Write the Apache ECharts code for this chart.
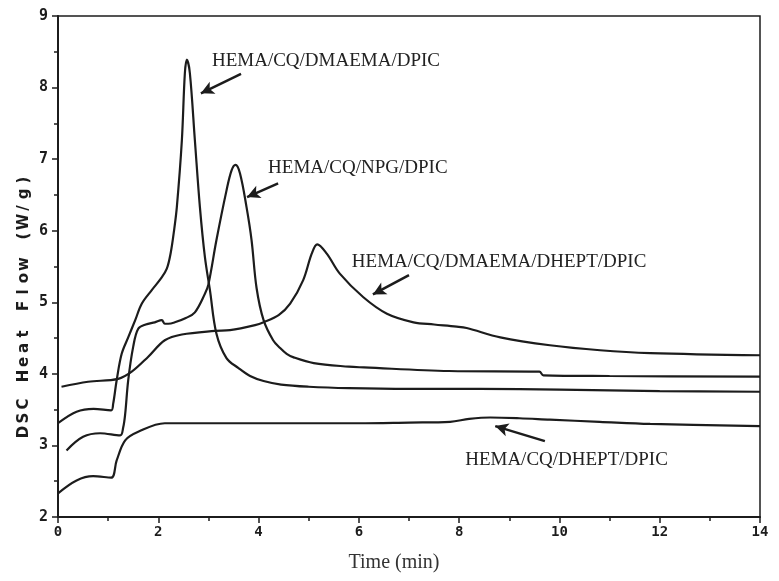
<!DOCTYPE html>
<html>
<head>
<meta charset="utf-8">
<script src="https://cdn.jsdelivr.net/npm/echarts@6/dist/echarts.min.js"></script>
<style>
  html, body { margin: 0; background: #fff; }
  #chart { width: 779px; height: 581px; }
</style>
</head>
<body>
<div id="chart"></div>
<script>
// axis ranges (min, max, step)
const xAxisRange = [0, 14, 2]
const yAxisRange = [2, 9, 1]

// curves: [time (min), heat flow (W/g)]
const dmaemaDpic = [
  [0, 3.31], [0.37, 3.47], [0.71, 3.51], [1.06, 3.49], [1.1, 3.58], [1.17, 3.91],
  [1.27, 4.28], [1.4, 4.51], [1.54, 4.75], [1.67, 4.98], [1.87, 5.17], [2.05, 5.33],
  [2.17, 5.47], [2.25, 5.7], [2.31, 5.98], [2.37, 6.33], [2.47, 7.26], [2.53, 8.2],
  [2.57, 8.39], [2.63, 8.2], [2.73, 7.26], [2.83, 6.33], [2.93, 5.63], [3.03, 5.17],
  [3.16, 4.56], [3.36, 4.22], [3.6, 4.08], [3.83, 3.97], [4.1, 3.9], [4.45, 3.85],
  [5, 3.82], [5.8, 3.8], [7, 3.79], [8.4, 3.79], [10, 3.78], [12, 3.76], [14, 3.75]
]
const npgDpic = [
  [0.17, 2.93], [0.5, 3.12], [0.84, 3.17], [1.24, 3.14], [1.3, 3.25], [1.34, 3.44],
  [1.4, 3.91], [1.5, 4.38], [1.6, 4.63], [1.75, 4.69], [1.93, 4.72], [2.07, 4.75],
  [2.13, 4.7], [2.2, 4.7], [2.33, 4.72], [2.55, 4.78], [2.73, 4.86], [2.93, 5.12],
  [3.0, 5.25], [3.16, 5.87], [3.36, 6.56], [3.46, 6.84], [3.54, 6.92], [3.63, 6.8],
  [3.76, 6.33], [3.86, 5.87], [3.96, 5.2], [4.1, 4.75], [4.29, 4.47], [4.43, 4.36],
  [4.56, 4.28], [4.7, 4.23], [5.1, 4.15], [5.8, 4.1], [6.1, 4.09], [7.8, 4.04],
  [9.6, 4.03], [9.68, 3.98], [11, 3.97], [14, 3.96]
]
const dmaemaDheptDpic = [
  [0.07, 3.82], [0.6, 3.89], [1.2, 3.93], [1.47, 4.03], [1.8, 4.24], [2.13, 4.47],
  [2.47, 4.55], [3.13, 4.6], [3.43, 4.61], [3.93, 4.68], [4.1, 4.72], [4.4, 4.82],
  [4.63, 4.98], [4.89, 5.31], [5.06, 5.68], [5.17, 5.81], [5.36, 5.68], [5.62, 5.4],
  [6.09, 5.07], [6.56, 4.84], [7.09, 4.72], [7.5, 4.69], [7.95, 4.66], [8.15, 4.64],
  [8.82, 4.51], [9.81, 4.4], [10.81, 4.33], [11.81, 4.29], [14, 4.26]
]
const dheptDpic = [
  [0, 2.33], [0.37, 2.51], [0.7, 2.57], [1.06, 2.55], [1.17, 2.79], [1.34, 3.07],
  [1.6, 3.19], [2.13, 3.31], [2.93, 3.31], [3.93, 3.31], [5, 3.31], [6, 3.31],
  [7, 3.32], [7.82, 3.33], [8.2, 3.37], [8.62, 3.39], [9.2, 3.38], [9.81, 3.36],
  [10.8, 3.33], [11.81, 3.3], [14, 3.27]
]

// curve labels (left edge, middle) and their arrows, in data units
const labelNames = ['HEMA/CQ/DMAEMA/DPIC', 'HEMA/CQ/NPG/DPIC', 'HEMA/CQ/DMAEMA/DHEPT/DPIC', 'HEMA/CQ/DHEPT/DPIC']
const labelAnchors = [[3.07, 8.37], [4.19, 6.87], [5.86, 5.56], [8.12, 2.8]]
const arrowFrom = [[3.65, 8.19], [4.39, 6.66], [7.0, 5.38], [9.71, 3.06]]
const arrowTo = [[2.85, 7.92], [3.77, 6.47], [6.28, 5.11], [8.72, 3.27]]

const xTitle = 'Time (min)'
const yTitle = 'DSC Heat Flow (W/g)'

const ink = '#1c1c1c'
const tickFont = { color: ink, fontFamily: 'DejaVu Sans Mono', fontWeight: 'bold' }

function curve (name, data) {
  return {
    name: name,
    type: 'line',
    data: data,
    smooth: 0.35,
    showSymbol: false,
    silent: true,
    lineStyle: { color: ink, width: 2.2 }
  }
}

const series = [
  curve(labelNames[0], dmaemaDpic),
  curve(labelNames[1], npgDpic),
  curve(labelNames[2], dmaemaDheptDpic),
  curve(labelNames[3], dheptDpic)
]
series[0].markLine = {
  silent: true,
  symbol: ['none', 'arrow'],
  symbolSize: [10, 13],
  label: { show: false },
  lineStyle: { color: ink, width: 2.5, type: 'solid' },
  data: arrowFrom.map((p, i) => [{ coord: p }, { coord: arrowTo[i] }])
}

const option = {
  animation: false,
  backgroundColor: '#fff',
  grid: {
    left: 58, right: 19, top: 16, bottom: 64,
    containLabel: false,
    outerBoundsMode: 'none',
    show: true,
    borderColor: ink,
    borderWidth: 1.5
  },
  xAxis: {
    type: 'value',
    min: xAxisRange[0], max: xAxisRange[1], interval: xAxisRange[2],
    axisLine: { lineStyle: { color: ink, width: 2 } },
    axisTick: { length: 6, lineStyle: { color: ink, width: 1.5 } },
    minorTick: { show: true, splitNumber: 2, length: 4, lineStyle: { color: ink, width: 1.5 } },
    splitLine: { show: false },
    axisLabel: Object.assign({ fontSize: 14, margin: 8 }, tickFont)
  },
  yAxis: {
    type: 'value',
    min: yAxisRange[0], max: yAxisRange[1], interval: yAxisRange[2],
    axisLine: { show: true, lineStyle: { color: ink, width: 2 } },
    axisTick: { show: true, length: 6, lineStyle: { color: ink, width: 1.5 } },
    minorTick: { show: true, splitNumber: 2, length: 4, lineStyle: { color: ink, width: 1.5 } },
    splitLine: { show: false },
    axisLabel: Object.assign({ fontSize: 15, margin: 10 }, tickFont)
  },
  series: series
}

const chart = echarts.init(document.getElementById('chart'))
chart.setOption(option)

// texts placed through the chart's own coordinate system
const noteGraphics = labelNames.map((txt, i) => {
  const p = chart.convertToPixel({ gridIndex: 0 }, labelAnchors[i])
  return {
    type: 'text',
    x: p[0],
    y: p[1],
    silent: true,
    style: {
      text: txt,
      fill: '#222',
      font: '19px "Liberation Serif"',
      align: 'left',
      verticalAlign: 'middle'
    }
  }
})

// spaced-out plotter style y title
const spaced = yTitle.split('').map(c => (c === ' ' ? '{s| }' : '{c|' + c + '}')).join('')
noteGraphics.push({
  type: 'text',
  x: 24,
  y: 306,
  rotation: Math.PI / 2,
  silent: true,
  style: {
    text: spaced,
    align: 'center',
    verticalAlign: 'middle',
    rich: {
      c: { width: 14, align: 'center', fill: ink, font: 'bold 15px "DejaVu Sans"' },
      s: { width: 14, font: 'bold 15px "DejaVu Sans"' }
    }
  }
})
noteGraphics.push({
  type: 'text',
  x: 394,
  y: 563,
  silent: true,
  style: {
    text: xTitle,
    fill: '#333',
    font: '20px "Liberation Serif"',
    align: 'center',
    verticalAlign: 'middle'
  }
})

chart.setOption({ graphic: noteGraphics })
</script>
</body>
</html>
